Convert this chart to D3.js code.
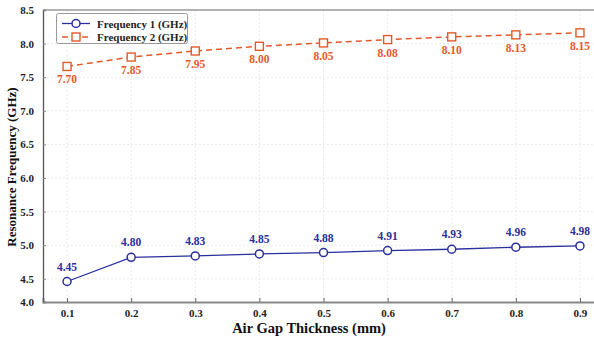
<!DOCTYPE html>
<html><head><meta charset="utf-8">
<script src="https://cdn.jsdelivr.net/npm/d3@7"></script>
<style>
html,body{margin:0;padding:0;background:#fff;}
svg text{font-family:"Liberation Serif","DejaVu Serif",serif !important;}
</style></head>
<body><svg id="c" width="594" height="338"></svg>
<script>
const thickness = [0.1, 0.2, 0.3, 0.4, 0.5, 0.6, 0.7, 0.8, 0.9];
const freq1 = [4.46, 4.82, 4.84, 4.87, 4.89, 4.92, 4.94, 4.97, 4.99];
const freq1Labels = ["4.45","4.80","4.83","4.85","4.88","4.91","4.93","4.96","4.98"];
const freq2 = [7.66, 7.80, 7.89, 7.96, 8.01, 8.06, 8.10, 8.13, 8.16];
const freq2Labels = ["7.70","7.85","7.95","8.00","8.05","8.08","8.10","8.13","8.15"];
const yTicks = [4.0, 4.5, 5.0, 5.5, 6.0, 6.5, 7.0, 7.5, 8.0, 8.5];
const xTicks = [0.1, 0.2, 0.3, 0.4, 0.5, 0.6, 0.7, 0.8, 0.9];
const seriesNames = ["Frequency 1 (GHz)", "Frequency 2 (GHz)"];

const FONT = "Liberation Serif, DejaVu Serif, serif";
const blue = "#2a2f9c", orange = "#e35a2a";
const svg = d3.select("#c");
const L = 43, R = 604, T = 10, B = 302;
const x = d3.scaleLinear().domain([0.0625, 0.9375]).range([L, R]);
const y = d3.scaleLinear().domain([4.155, 8.5]).range([B, T]).clamp(true);

// grid
const g = svg.append("g");
g.selectAll(".gx").data(xTicks).join("line")
  .attr("x1", d => x(d)).attr("x2", d => x(d)).attr("y1", T).attr("y2", B)
  .attr("stroke", "#e4e4e4").attr("stroke-width", 0.8).attr("stroke-dasharray", "2,2");
g.selectAll(".gy").data(yTicks.filter(v => v > 4.2 && v < 8.5)).join("line")
  .attr("x1", L).attr("x2", R).attr("y1", d => y(d)).attr("y2", d => y(d))
  .attr("stroke", "#e4e4e4").attr("stroke-width", 0.8).attr("stroke-dasharray", "2,2");

// top border
svg.append("line").attr("x1", L).attr("x2", R).attr("y1", T).attr("y2", T)
  .attr("stroke", "#999").attr("stroke-width", 1.5);

// axes
const xAxis = d3.axisBottom(x).tickValues(xTicks).tickSize(-4).tickPadding(7).tickFormat(d3.format(".1f"));
const ax = svg.append("g").attr("transform", `translate(0,${B})`).call(xAxis).attr("font-family", FONT);
ax.select(".domain").attr("stroke", "#888").attr("stroke-width", 2);
ax.selectAll(".tick line").attr("stroke", "#666");
ax.selectAll("text").attr("font-size", 11).attr("font-weight", "bold").attr("fill", "#222");

const yAxis = d3.axisLeft(y).tickValues(yTicks).tickSize(-3).tickPadding(9).tickFormat(d3.format(".1f"));
const ay = svg.append("g").attr("transform", `translate(${L},0)`).call(yAxis).attr("font-family", FONT);
ay.select(".domain").attr("stroke", "#555").attr("stroke-width", 1.3);
ay.selectAll(".tick line").attr("stroke", "#888");
ay.selectAll("text").attr("font-size", 11).attr("font-weight", "bold").attr("fill", "#222");

// axis titles
svg.append("text").attr("x", 309).attr("y", 333).attr("text-anchor", "middle")
  .attr("font-size", 14.5).attr("font-weight", "bold").attr("fill", "#111").text("Air Gap Thickness (mm)");
svg.append("text").attr("transform", "translate(16,167) rotate(-90)").attr("text-anchor", "middle")
  .attr("font-size", 13).attr("font-weight", "bold").attr("fill", "#111").text("Resonance Frequency (GHz)");

// series 2 (orange, dashed, squares)
const line = d3.line().x(d => x(d[0])).y(d => y(d[1]));
const d2 = thickness.map((t, i) => [t, freq2[i]]);
const d1 = thickness.map((t, i) => [t, freq1[i]]);
svg.append("path").datum(d2).attr("d", line).attr("fill", "none").attr("stroke", orange)
  .attr("stroke-width", 1.5).attr("stroke-dasharray", "6,4");
svg.selectAll(".sq").data(d2).join("rect")
  .attr("x", d => x(d[0]) - 4).attr("y", d => y(d[1]) - 4).attr("width", 8).attr("height", 8)
  .attr("fill", "#fff").attr("stroke", orange).attr("stroke-width", 1.4);
svg.selectAll(".l2").data(d2).join("text")
  .attr("x", d => x(d[0])).attr("y", (d) => y(d[1]) + 17).attr("text-anchor", "middle")
  .attr("font-size", 11.5).attr("font-weight", "bold").attr("fill", orange)
  .text((d, i) => freq2Labels[i]);

// series 1 (blue, solid, circles)
svg.append("path").datum(d1).attr("d", line).attr("fill", "none").attr("stroke", blue).attr("stroke-width", 1.3);
svg.selectAll(".ci").data(d1).join("circle")
  .attr("cx", d => x(d[0])).attr("cy", d => y(d[1])).attr("r", 4)
  .attr("fill", "#fff").attr("stroke", blue).attr("stroke-width", 1.5);
svg.selectAll(".l1").data(d1).join("text")
  .attr("x", d => x(d[0])).attr("y", d => y(d[1]) - 11).attr("text-anchor", "middle")
  .attr("font-size", 11.5).attr("font-weight", "bold").attr("fill", blue)
  .text((d, i) => freq1Labels[i]);

// legend
const lg = svg.append("g");
lg.append("rect").attr("x", 56.5).attr("y", 13.5).attr("width", 131).attr("height", 30).attr("rx", 2)
  .attr("fill", "#fff").attr("stroke", "#999").attr("stroke-width", 1);
const ly = [23.5, 37];
lg.append("line").attr("x1", 62).attr("x2", 90).attr("y1", ly[0]).attr("y2", ly[0]).attr("stroke", blue).attr("stroke-width", 1.3);
lg.append("circle").attr("cx", 76).attr("cy", ly[0]).attr("r", 4).attr("fill", "#fff").attr("stroke", blue).attr("stroke-width", 1.5);
lg.append("line").attr("x1", 62).attr("x2", 90).attr("y1", ly[1]).attr("y2", ly[1]).attr("stroke", orange).attr("stroke-width", 1.5).attr("stroke-dasharray", "6,4");
lg.append("rect").attr("x", 72).attr("y", ly[1] - 4).attr("width", 8).attr("height", 8).attr("fill", "#fff").attr("stroke", orange).attr("stroke-width", 1.4);
lg.selectAll(".lt").data(seriesNames).join("text")
  .attr("x", 97).attr("y", (d, i) => ly[i] + 4).attr("font-size", 11).attr("font-weight", "bold").attr("fill", "#222")
  .text(d => d);
</script></body></html>
